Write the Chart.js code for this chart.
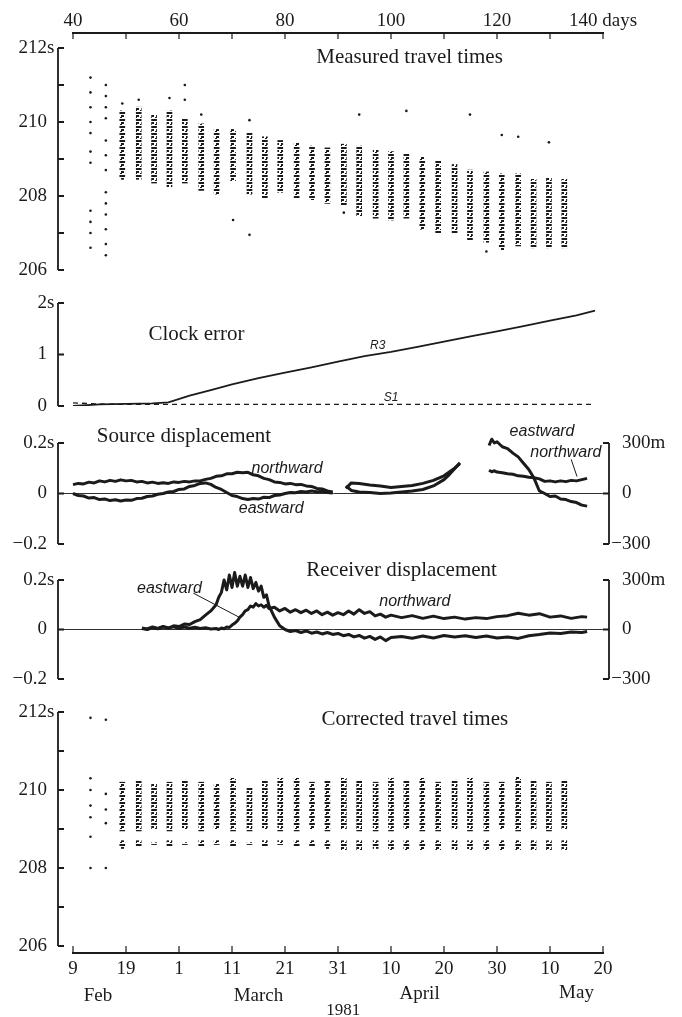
<!DOCTYPE html>
<html>
<head>
<meta charset="utf-8">
<title>Travel times 1981</title>
<script src="https://cdn.jsdelivr.net/npm/chart.js@4.4.1/dist/chart.umd.min.js"></script>
<style>
  body { margin: 0; background: #fff; }
  #page { position: relative; width: 682px; height: 1017px; overflow: hidden; background: #fff; }
  .panel { position: absolute; left: 0; width: 682px; }
</style>
</head>
<body>
<div id="page">
  <div class="panel" style="top:0px;height:280px"><canvas id="measured"></canvas></div>
  <div class="panel" style="top:290px;height:130px"><canvas id="clock"></canvas></div>
  <div class="panel" style="top:420px;height:135px"><canvas id="source"></canvas></div>
  <div class="panel" style="top:555px;height:135px"><canvas id="receiver"></canvas></div>
  <div class="panel" style="top:690px;height:327px"><canvas id="corrected"></canvas></div>
</div>
<script>
// ---- axes ----
const topTickDays = [40, 50, 60, 70, 80, 90, 100, 110, 120, 130, 140];
const topTickLabels = ['40', '', '60', '', '80', '', '100', '', '120', '', '140 days'];
const dateTickLabels = ['9', '19', '1', '11', '21', '31', '10', '20', '30', '10', '20'];
const travelTicks = [206, 207, 208, 209, 210, 211, 212];
const travelTickLabels = ['206', '', '208', '', '210', '', '212'];
const clockTicks = [0, 1, 2];
const clockTickLabels = ['0', '1', '2'];
const dispTicks = [-0.2, 0, 0.2];
const dispTickLabels = ['\u22120.2', '0', '0.2'];
const metreTickLabels = ['\u2212300', '0', '300'];

// ---- measured travel times (s): one dotted column every ~3 days ----
const columnDays = [43.3, 46.2, 49.3, 52.4, 55.3, 58.2, 61.1, 64.2, 67.1, 70.2, 73.3, 76.2, 79.1, 82.2, 85.1, 88.0,
  91.1, 94.0, 97.1, 100.0, 102.9, 105.9, 108.9, 112.0, 114.9, 118.0, 120.9, 124.0, 126.9, 129.8, 132.7];
const measuredHigh = [null, null, 210.3, 210.4, 210.2, 210.3, 210.1, 209.95, 209.8, 209.8, 209.7, 209.6, 209.5, 209.45,
  209.35, 209.3, 209.4, 209.35, 209.25, 209.2, 209.15, 209.05, 208.95, 208.85, 208.7, 208.65, 208.6, 208.6, 208.45, 208.5, 208.45];
const measuredLow = [null, null, 208.45, 208.45, 208.35, 208.25, 208.35, 208.15, 208.05, 208.4, 208.05, 207.95, 208.1, 207.95,
  207.9, 207.8, 207.75, 207.45, 207.4, 207.35, 207.4, 207.1, 207.0, 207.0, 206.8, 206.75, 206.55, 206.65, 206.6, 206.6, 206.6];
const measuredDotDays = [43.3, 43.3, 43.3, 43.3, 43.3, 43.3, 43.3, 43.3, 43.3, 43.3, 43.3,
  46.2, 46.2, 46.2, 46.2, 46.2, 46.2, 46.2, 46.2, 46.2, 46.2, 46.2, 46.2, 46.2,
  49.3, 52.4, 58.2, 61.1, 61.1, 64.2, 70.2, 73.3, 73.3, 91.1, 94.0, 102.9, 114.9, 118.0, 120.9, 124.0, 129.8];
const measuredDotTimes = [211.2, 210.8, 210.4, 210.0, 209.7, 209.2, 208.9, 207.6, 207.3, 207.0, 206.6,
  211.0, 210.7, 210.4, 210.1, 209.5, 209.1, 208.7, 208.1, 207.8, 207.5, 207.1, 206.7, 206.4,
  210.5, 210.6, 210.65, 211.0, 210.6, 210.2, 207.35, 206.95, 210.05, 207.55, 210.2, 210.3, 210.2, 206.5, 209.65, 209.6, 209.45];

// ---- clock error (s) ----
const clockDays = [40, 45, 50, 55, 58, 62, 66, 70, 75, 80, 85, 90, 95, 100, 105, 110, 115, 120, 125, 130, 135, 138.5];
const clockR3 = [0.0, 0.03, 0.04, 0.05, 0.07, 0.2, 0.31, 0.42, 0.54, 0.65, 0.75, 0.86, 0.97, 1.05, 1.15, 1.25, 1.35,
  1.45, 1.55, 1.66, 1.76, 1.85];
const clockS1 = [0.06, 0.04, 0.03, 0.03, 0.03, 0.03, 0.03, 0.03, 0.03, 0.03, 0.03, 0.03, 0.03, 0.03, 0.03, 0.03, 0.03,
  0.03, 0.03, 0.03, 0.03, 0.03];

// ---- source displacement (s; 0.2 s = 300 m) ----
const sourceDays = [40, 41, 42, 43, 44, 45, 46, 47, 48, 49, 50, 51, 52, 53, 54, 55, 56, 57, 58, 59,
  60, 61, 62, 63, 64, 65, 66, 67, 68, 69, 70, 71, 72, 73, 74, 75, 76, 77, 78, 79,
  80, 81, 82, 83, 84, 85, 86, 87, 88, 89, 90,
  91.5, 92.5, 94, 96, 98, 100, 102, 104, 106, 108, 110, 111, 112, 113, 116,
  118.5, 119, 119.5, 120, 121, 122, 123, 124, 125, 126, 127, 128, 129, 130, 131, 132, 133, 134, 135, 136, 137];
const sourceNorth = [0.035, 0.04, 0.038, 0.045, 0.042, 0.05, 0.046, 0.052, 0.048, 0.054,
  0.05, 0.052, 0.046, 0.048, 0.042, 0.045, 0.04, 0.043, 0.04, 0.046,
  0.044, 0.048, 0.046, 0.05, 0.05, 0.056, 0.06, 0.068, 0.07, 0.078,
  0.078, 0.084, 0.082, 0.084, 0.074, 0.07, 0.06, 0.055, 0.046, 0.044,
  0.038, 0.04, 0.035, 0.036, 0.03, 0.028, 0.02, 0.018, 0.01, 0.006, null,
  0.02, 0.042, 0.04, 0.034, 0.03, 0.024, 0.028, 0.032, 0.04, 0.052, 0.07, 0.085, 0.1, 0.118, null,
  0.092, 0.086, 0.09, 0.085, 0.082, 0.078, 0.076, 0.07, 0.068, 0.064, 0.062, 0.058, 0.048, 0.05, 0.046, 0.05, 0.047,
  0.052, 0.05, 0.055, 0.06];
const sourceEast = [0.0, -0.008, -0.01, -0.018, -0.016, -0.024, -0.022, -0.028, -0.025, -0.03,
  -0.026, -0.027, -0.02, -0.019, -0.012, -0.01, -0.003, 0.0, 0.006, 0.008,
  0.016, 0.018, 0.028, 0.032, 0.04, 0.042, 0.036, 0.024, 0.016, 0.004,
  -0.008, -0.012, -0.02, -0.024, -0.02, -0.022, -0.015, -0.016, -0.008, -0.006,
  0.0, 0.004, 0.003, 0.008, 0.006, 0.01, 0.007, 0.008, 0.004, 0.002, null,
  0.03, 0.012, 0.006, 0.004, 0.0, 0.002, 0.006, 0.01, 0.016, 0.03, 0.055, 0.075, 0.098, 0.122, null,
  0.19, 0.215, 0.2, 0.205, 0.185, 0.178, 0.16, 0.145, 0.12, 0.095, 0.06, 0.01, 0.0, -0.012, -0.01, -0.022, -0.024,
  -0.032, -0.036, -0.046, -0.05];

// ---- receiver displacement (s; 0.2 s = 300 m) ----
const receiverDays = [53, 54, 55, 56, 57, 58, 59, 60, 61, 62, 63, 64, 65, 66, 67,
  67.5, 68, 68.5, 69, 69.5, 70, 70.5, 71, 71.5, 72, 72.5, 73, 73.5, 74, 74.5, 75, 75.5, 76, 76.5,
  77, 78, 79, 80, 81, 82, 83, 84, 85, 86, 87, 88, 89, 90, 91, 92, 93, 94, 95, 96, 97, 98, 99, 100,
  102, 104, 106, 108, 110, 112, 114, 116, 118, 120, 122, 124, 126, 128, 130, 132, 134, 136, 137];
const receiverEast = [0.004, 0.0, 0.008, 0.003, 0.01, 0.006, 0.015, 0.012, 0.022, 0.02, 0.032, 0.04, 0.058, 0.075, 0.1,
  0.13, 0.15, 0.2, 0.16, 0.22, 0.17, 0.23, 0.175, 0.215, 0.175, 0.22, 0.17, 0.21, 0.165, 0.19, 0.155, 0.175, 0.13, 0.14,
  0.095, 0.05, 0.015, 0.0, -0.008, -0.004, -0.012, -0.006, -0.015, -0.01, -0.018, -0.012, -0.02, -0.016, -0.025, -0.02,
  -0.03, -0.024, -0.035, -0.028, -0.04, -0.03, -0.045, -0.032,
  -0.028, -0.035, -0.026, -0.034, -0.024, -0.03, -0.025, -0.032, -0.026, -0.034, -0.03, -0.036, -0.025, -0.02, -0.014,
  -0.016, -0.01, -0.012, -0.008];
const receiverNorth = [0.006, 0.002, 0.01, 0.004, 0.012, 0.006, 0.011, 0.004, 0.01, 0.005, 0.009, 0.004, 0.007, 0.002, 0.004,
  0.0, 0.006, 0.003, 0.01, 0.008, 0.018, 0.025, 0.035, 0.05, 0.06, 0.075, 0.08, 0.095, 0.09, 0.105, 0.095, 0.1, 0.09, 0.098,
  0.085, 0.09, 0.075, 0.085, 0.07, 0.08, 0.068, 0.078, 0.065, 0.075, 0.06, 0.07, 0.058, 0.068, 0.06, 0.075, 0.062, 0.08,
  0.065, 0.072, 0.055, 0.062, 0.05, 0.058,
  0.048, 0.056, 0.045, 0.054, 0.044, 0.05, 0.042, 0.048, 0.044, 0.052, 0.056, 0.066, 0.058, 0.064, 0.05, 0.055, 0.045,
  0.052, 0.05];

// ---- corrected travel times (s) ----
const correctedHigh = [null, null, 210.2, 210.25, 210.15, 210.2, 210.25, 210.2, 210.15, 210.3, 210.05, 210.25, 210.3,
  210.3, 210.2, 210.25, 210.3, 210.25, 210.2, 210.3, 210.25, 210.3, 210.2, 210.25, 210.3, 210.2, 210.2, 210.35, 210.25,
  210.2, 210.25];
const correctedLow = [null, null, 208.95, 208.95, 209.0, 208.95, 209.0, 208.95, 209.0, 208.95, 208.95, 209.0, 208.95,
  208.95, 209.0, 208.95, 209.0, 208.95, 208.95, 208.95, 209.0, 208.95, 208.95, 209.0, 208.95, 208.95, 209.0, 208.95,
  209.0, 208.95, 209.0];
const correctedTailHigh = [null, null, 208.7, 208.7, 208.65, 208.7, 208.65, 208.7, 208.7, 208.7, 208.65, 208.7, 208.7,
  208.7, 208.7, 208.7, 208.7, 208.7, 208.7, 208.7, 208.7, 208.7, 208.7, 208.7, 208.7, 208.7, 208.7, 208.7, 208.7, 208.7, 208.7];
const correctedTailLow = [null, null, 208.5, 208.55, 208.6, 208.55, 208.6, 208.55, 208.6, 208.55, 208.6, 208.55, 208.6,
  208.55, 208.55, 208.5, 208.45, 208.45, 208.5, 208.45, 208.45, 208.45, 208.45, 208.45, 208.45, 208.45, 208.45, 208.45,
  208.45, 208.45, 208.45];
const correctedDotDays = [43.3, 43.3, 43.3, 43.3, 43.3, 43.3, 43.3, 46.2, 46.2, 46.2, 46.2, 46.2];
const correctedDotTimes = [211.85, 210.3, 210.0, 209.6, 209.3, 208.8, 208.0, 211.8, 209.9, 209.5, 209.15, 208.0];

const ink = '#1b1b1b';
const serif = '"Liberation Serif", "DejaVu Serif", serif';
const sans = '"Liberation Sans", "DejaVu Sans", sans-serif';

Chart.defaults.font.family = serif;
Chart.defaults.color = ink;
Chart.defaults.animation = false;
Chart.defaults.plugins.legend.display = false;
Chart.defaults.plugins.tooltip.enabled = false;

// paper style axes: bracket spines with inward ticks, offset from the data area
const frame = {
  id: 'frame',
  beforeDatasetsDraw(chart, args, opts) {
    if (!opts.zero) return;
    const ctx = chart.ctx, a = chart.chartArea, y = chart.scales.y.getPixelForValue(0);
    ctx.save();
    ctx.strokeStyle = ink; ctx.lineWidth = 0.9;
    ctx.beginPath(); ctx.moveTo(a.left - 15, y); ctx.lineTo(a.right + 6, y); ctx.stroke();
    ctx.restore();
  },
  afterDraw(chart, args, opts) {
    const ctx = chart.ctx, a = chart.chartArea;
    ctx.save();
    ctx.strokeStyle = ink; ctx.fillStyle = ink;
    (opts.spines || []).forEach(s => {
      const sc = chart.scales.y;
      const left = s.side === 'left';
      const x = left ? a.left - 15 : a.right + 6;
      const dir = left ? 1 : -1;
      const yTop = sc.getPixelForValue(s.ticks[s.ticks.length - 1]);
      const yBot = sc.getPixelForValue(s.ticks[0]);
      ctx.lineWidth = 1.8;
      ctx.beginPath();
      ctx.moveTo(x, yTop); ctx.lineTo(x, yBot);
      s.ticks.forEach(v => {
        const y = sc.getPixelForValue(v);
        ctx.moveTo(x, y); ctx.lineTo(x + dir * 6, y);
      });
      ctx.stroke();
      ctx.font = '19px ' + serif;
      ctx.textBaseline = 'middle';
      s.labels.forEach((lab, i) => {
        if (!lab) return;
        const y = sc.getPixelForValue(s.ticks[i]);
        const unit = (i === s.labels.length - 1 && s.unit) ? s.unit : '';
        if (left) {
          ctx.textAlign = 'right'; ctx.fillText(lab, x - 11, y);
          if (unit) { ctx.textAlign = 'left'; ctx.fillText(unit, x - 11, y); }
        } else {
          let t = lab;
          if (t[0] === '\u2212') { ctx.textAlign = 'right'; ctx.fillText('\u2212', x + 13, y); t = t.slice(1); }
          ctx.textAlign = 'left'; ctx.fillText(t + unit, x + 13, y);
        }
      });
    });
    if (opts.xTicks) {
      const sx = chart.scales.x;
      const y0 = opts.xTicks === 'top' ? a.top : a.bottom;
      const d = opts.xTicks === 'top' ? 6 : -7;
      ctx.lineWidth = 1.2;
      ctx.beginPath();
      sx.ticks.forEach(t => {
        const x = sx.getPixelForValue(t.value);
        ctx.moveTo(x, y0); ctx.lineTo(x, y0 + d);
      });
      ctx.stroke();
    }
    ctx.restore();
  }
};

// free text and leader lines placed in data coordinates
const notes = {
  id: 'notes',
  afterDatasetsDraw(chart, args, opts) {
    const ctx = chart.ctx, sx = chart.scales.x, sy = chart.scales.y;
    ctx.save();
    ctx.fillStyle = ink; ctx.strokeStyle = ink; ctx.textBaseline = 'middle';
    (opts.items || []).forEach(n => {
      ctx.font = n.font;
      ctx.textAlign = n.align || 'center';
      const py = n.py != null ? n.py : sy.getPixelForValue(n.y);
      ctx.fillText(n.text, sx.getPixelForValue(n.x), py);
    });
    ctx.lineWidth = 1;
    (opts.leaders || []).forEach(l => {
      ctx.beginPath();
      ctx.moveTo(sx.getPixelForValue(l[0]), sy.getPixelForValue(l[1]));
      ctx.lineTo(sx.getPixelForValue(l[2]), sy.getPixelForValue(l[3]));
      ctx.stroke();
    });
    ctx.restore();
  }
};
Chart.register(frame, notes);

// broken dotted fill for the travel-time columns
function streakPattern() {
  const c = document.createElement('canvas');
  c.width = 5; c.height = 7;
  const g = c.getContext('2d');
  g.fillStyle = ink;
  g.fillRect(0, 0, 5, 2);
  g.fillRect(1, 3, 3, 2);
  g.fillRect(0, 5, 2, 1);
  return g.createPattern(c, 'repeat');
}
const streak = streakPattern();

function columns(lo, hi) {
  const out = [];
  columnDays.forEach((d, i) => { if (hi[i] != null) out.push({ x: d, y: [lo[i], hi[i]] }); });
  return out;
}
function points(days, vals) {
  return days.map((d, i) => ({ x: d, y: vals[i] }));
}
function hiddenX() {
  return { type: 'linear', min: 40, max: 140, display: false, offset: false };
}
const serifTitle = '21px ' + serif;
const italicLabel = 'italic 16px ' + sans;

// measured travel times
new Chart('measured', {
  type: 'bar',
  data: {
    datasets: [
      { data: columns(measuredLow, measuredHigh), backgroundColor: streak, barThickness: 5, borderWidth: 0 },
      { type: 'scatter', data: points(measuredDotDays, measuredDotTimes), pointRadius: 1.3,
        backgroundColor: ink, borderWidth: 0 }
    ]
  },
  options: {
    responsive: true, maintainAspectRatio: false,
    layout: { padding: { left: 73, right: 79, top: 0, bottom: 10 } },
    scales: {
      x: {
        type: 'linear', position: 'top', min: 40, max: 140, offset: false,
        afterFit: s => { s.height = 33; },
        grid: { drawOnChartArea: false, drawTicks: false, offset: false },
        border: { display: true, color: ink, width: 2 },
        ticks: { stepSize: 10, autoSkip: false, maxRotation: 0, padding: 1, color: ink, font: { size: 19 },
          callback: v => topTickLabels[topTickDays.indexOf(v)] }
      },
      y: { type: 'linear', display: false, min: 206, max: 212.405 }
    },
    plugins: {
      frame: { xTicks: 'top', spines: [{ side: 'left', ticks: travelTicks, labels: travelTickLabels, unit: 's' }] },
      notes: { items: [{ x: 103.5, y: 211.75, text: 'Measured travel times', font: serifTitle }] }
    }
  }
});

// clock error
new Chart('clock', {
  type: 'line',
  data: {
    datasets: [
      { data: points(clockDays, clockR3), borderColor: ink, borderWidth: 1.8, pointRadius: 0 },
      { data: points(clockDays, clockS1), borderColor: ink, borderWidth: 1.3, borderDash: [5, 4], pointRadius: 0 }
    ]
  },
  options: {
    responsive: true, maintainAspectRatio: false,
    layout: { padding: { left: 73, right: 79, top: 13, bottom: 14 } },
    scales: { x: hiddenX(), y: { type: 'linear', display: false, min: 0, max: 2 } },
    plugins: {
      frame: { spines: [{ side: 'left', ticks: clockTicks, labels: clockTickLabels, unit: 's' }] },
      notes: { items: [
        { x: 63.3, y: 1.38, text: 'Clock error', font: serifTitle },
        { x: 97.5, y: 1.18, text: 'R3', font: 'italic 12px ' + sans },
        { x: 100, y: 0.17, text: 'S1', font: 'italic 12px ' + sans }
      ] }
    }
  }
});

const thick = { borderColor: ink, borderWidth: 3, pointRadius: 0, borderJoinStyle: 'round', clip: false, spanGaps: false };

// source displacement
new Chart('source', {
  type: 'line',
  data: {
    datasets: [
      Object.assign({ data: points(sourceDays, sourceNorth) }, thick),
      Object.assign({ data: points(sourceDays, sourceEast) }, thick)
    ]
  },
  options: {
    responsive: true, maintainAspectRatio: false,
    layout: { padding: { left: 73, right: 79, top: 23, bottom: 11 } },
    scales: { x: hiddenX(), y: { type: 'linear', display: false, min: -0.2, max: 0.2 } },
    plugins: {
      frame: { zero: true, spines: [
        { side: 'left', ticks: dispTicks, labels: dispTickLabels, unit: 's' },
        { side: 'right', ticks: dispTicks, labels: metreTickLabels, unit: 'm' }
      ] },
      notes: {
        items: [
          { x: 44.5, y: 0.226, text: 'Source displacement', font: serifTitle, align: 'left' },
          { x: 80.4, y: 0.099, text: 'northward', font: italicLabel },
          { x: 77.4, y: -0.059, text: 'eastward', font: italicLabel },
          { x: 128.5, y: 0.246, text: 'eastward', font: italicLabel },
          { x: 133, y: 0.162, text: 'northward', font: italicLabel }
        ],
        leaders: [[134, 0.135, 135.1, 0.067]]
      }
    }
  }
});

// receiver displacement
new Chart('receiver', {
  type: 'line',
  data: {
    datasets: [
      Object.assign({ data: points(receiverDays, receiverNorth) }, thick),
      Object.assign({ data: points(receiverDays, receiverEast) }, thick)
    ]
  },
  options: {
    responsive: true, maintainAspectRatio: false,
    layout: { padding: { left: 73, right: 79, top: 25, bottom: 11 } },
    scales: { x: hiddenX(), y: { type: 'linear', display: false, min: -0.2, max: 0.2 } },
    plugins: {
      frame: { zero: true, spines: [
        { side: 'left', ticks: dispTicks, labels: dispTickLabels, unit: 's' },
        { side: 'right', ticks: dispTicks, labels: metreTickLabels, unit: 'm' }
      ] },
      notes: {
        items: [
          { x: 102, y: 0.24, text: 'Receiver displacement', font: serifTitle },
          { x: 58.2, y: 0.167, text: 'eastward', font: italicLabel },
          { x: 104.5, y: 0.111, text: 'northward', font: italicLabel }
        ],
        leaders: [[62.7, 0.147, 71.4, 0.049]]
      }
    }
  }
});

// corrected travel times
new Chart('corrected', {
  type: 'bar',
  data: {
    datasets: [
      { data: columns(correctedLow, correctedHigh), backgroundColor: streak, barThickness: 5, borderWidth: 0 },
      { data: columns(correctedTailLow, correctedTailHigh), backgroundColor: streak, barThickness: 5, borderWidth: 0 },
      { type: 'scatter', data: points(correctedDotDays, correctedDotTimes), pointRadius: 1.3,
        backgroundColor: ink, borderWidth: 0 }
    ]
  },
  options: {
    responsive: true, maintainAspectRatio: false,
    layout: { padding: { left: 73, right: 79, top: 22, bottom: 0 } },
    datasets: { bar: { grouped: false } },
    scales: {
      x: {
        type: 'linear', position: 'bottom', min: 40, max: 140, offset: false,
        afterFit: s => { s.height = 64; },
        grid: { drawOnChartArea: false, drawTicks: false, offset: false },
        border: { display: true, color: ink, width: 2 },
        ticks: { stepSize: 10, autoSkip: false, maxRotation: 0, padding: 5, color: ink, font: { size: 19 },
          callback: v => dateTickLabels[topTickDays.indexOf(v)] }
      },
      y: { type: 'linear', display: false, min: 205.82, max: 212 }
    },
    plugins: {
      frame: { xTicks: 'bottom', spines: [{ side: 'left', ticks: travelTicks, labels: travelTickLabels, unit: 's' }] },
      notes: { items: [
        { x: 104.5, y: 211.8, text: 'Corrected travel times', font: serifTitle },
        { x: 44.7, py: 306, text: 'Feb', font: '19px ' + serif },
        { x: 75, py: 306, text: 'March', font: '19px ' + serif },
        { x: 105.4, py: 304, text: 'April', font: '19px ' + serif },
        { x: 135, py: 303, text: 'May', font: '19px ' + serif },
        { x: 91, py: 321, text: '1981', font: '17px ' + serif }
      ] }
    }
  }
});
</script>
</body>
</html>
